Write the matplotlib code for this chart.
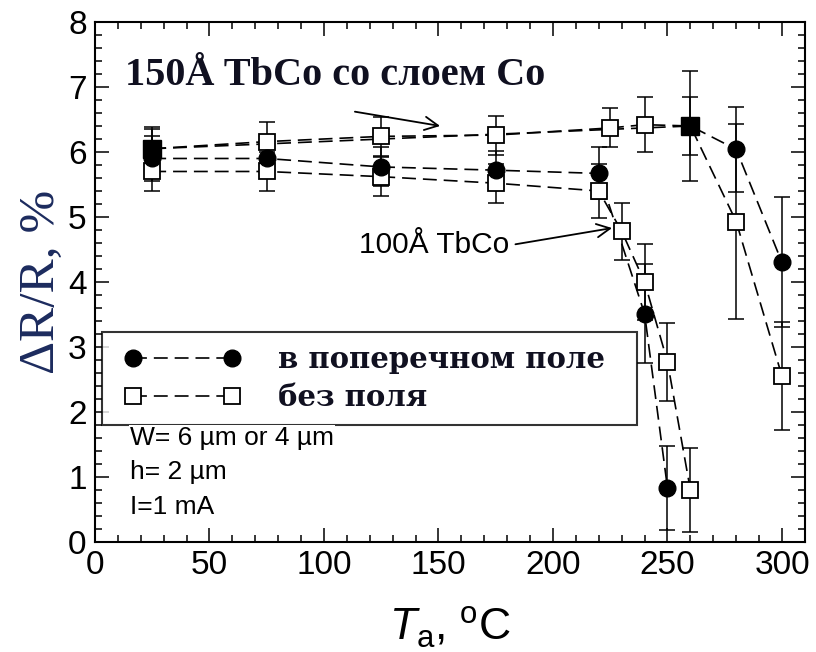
import matplotlib
matplotlib.use("Agg")
import matplotlib.pyplot as plt
from matplotlib.lines import Line2D
from matplotlib.legend_handler import HandlerLine2D
from matplotlib.ticker import MultipleLocator

plt.rcParams['lines.scale_dashes'] = False
plt.rcParams['mathtext.fontset'] = 'custom'
plt.rcParams['mathtext.rm'] = 'Liberation Sans'
plt.rcParams['mathtext.it'] = 'Liberation Sans:italic'

# 150 Å TbCo with Co layer, transverse field (filled markers)
t150_field = [25, 260, 280, 300]
r150_field = [6.05, 6.40, 6.04, 4.30]
e150_field = [0.30, 0.85, 0.65, 1.00]
m150_field = ['s', 's', 'o', 'o']

# 150 Å TbCo with Co layer, no field (open squares)
t150_zero = [25, 75, 125, 175, 225, 240, 260, 280, 300]
r150_zero = [6.05, 6.16, 6.24, 6.26, 6.37, 6.42, 6.40, 4.93, 2.55]
e150_zero = [0.34, 0.30, 0.30, 0.30, 0.30, 0.42, 0.45, 1.50, 0.83]

# 100 Å TbCo, transverse field (filled circles)
t100_field = [25, 75, 125, 175, 220, 240, 250]
r100_field = [5.90, 5.90, 5.77, 5.72, 5.67, 3.51, 0.83]
e100_field = [0.35, 0.30, 0.30, 0.30, 0.40, 0.76, 0.64]

# 100 Å TbCo, no field (open squares)
t100_zero = [25, 75, 125, 175, 220, 230, 240, 250, 260]
r100_zero = [5.70, 5.70, 5.62, 5.52, 5.40, 4.78, 4.00, 2.77, 0.80]
e100_zero = [0.30, 0.30, 0.30, 0.30, 0.42, 0.44, 0.58, 0.60, 0.65]

legend_labels = ['в поперечном поле', 'без поля']
notes = ['W= 6 \u00b5m or 4 \u00b5m', 'h= 2 \u00b5m', 'I=1 mA']

TEXT_DARK = '#101020'

fig = plt.figure(figsize=(8.16, 6.52), dpi=100)
ax = fig.add_axes([0.1164, 0.1687, 0.870, 0.7976])

DASH = (10, 5)
LW = 1.2
err_kw = dict(fmt='none', ecolor='black', elinewidth=1.1, capsize=6, capthick=1.1, zorder=2)

# dashed connecting lines
for t, r in [(t150_field, r150_field), (t150_zero, r150_zero),
             (t100_field, r100_field), (t100_zero, r100_zero)]:
    ax.plot(t, r, color='black', lw=LW, dashes=DASH, zorder=1)

# error bars
ax.errorbar(t150_zero, r150_zero, yerr=e150_zero, **err_kw)
ax.errorbar(t100_zero, r100_zero, yerr=e100_zero, **err_kw)
ax.errorbar(t100_field, r100_field, yerr=e100_field, **err_kw)
ax.errorbar(t150_field, r150_field, yerr=e150_field, **err_kw)

# markers
ax.plot(t150_zero, r150_zero, ls='none', marker='s', ms=11, mfc='white',
        mec='black', mew=1.3, zorder=3)
ax.plot(t100_zero, r100_zero, ls='none', marker='s', ms=11, mfc='white',
        mec='black', mew=1.3, zorder=3)
ax.plot(t100_field, r100_field, ls='none', marker='o', ms=12, mfc='black',
        mec='black', zorder=4)
for t, r, m in zip(t150_field, r150_field, m150_field):
    ax.plot([t], [r], ls='none', marker=m, ms=12 if m == 'o' else 13,
            mfc='black', mec='black', zorder=4)

# axes
ax.set_xlim(0, 310)
ax.set_ylim(0, 8)
ax.xaxis.set_major_locator(MultipleLocator(50))
ax.xaxis.set_minor_locator(MultipleLocator(10))
ax.yaxis.set_major_locator(MultipleLocator(1))
ax.yaxis.set_minor_locator(MultipleLocator(0.2))
ax.tick_params(which='both', direction='in', top=True, right=True, width=1.1)
ax.tick_params(which='major', length=10, labelsize=24, pad=6)
ax.tick_params(which='minor', length=5)
for lab in ax.get_xticklabels() + ax.get_yticklabels():
    lab.set_fontfamily('Liberation Sans')
for sp in ax.spines.values():
    sp.set_linewidth(1.5)

ax.set_xlabel(r'$\mathit{T}_{\mathrm{a}}$, $^{\mathrm{o}}$C', fontsize=32,
              family='Liberation Sans', labelpad=17)
ax.set_ylabel('\u0394R/R, %', fontsize=37, family='Liberation Serif',
              color='#1c2b5e', labelpad=2)

# legend
handles = [
    Line2D([], [], color='black', lw=LW, dashes=DASH, marker='o', ms=12,
           mfc='black', mec='black'),
    Line2D([], [], color='black', lw=LW, dashes=DASH, marker='s', ms=11,
           mfc='white', mec='black', mew=1.3),
]
leg = ax.legend(handles, legend_labels, loc='upper left',
                bbox_to_anchor=(0.01, 0.404, 0.753, 0.0), mode='expand',
                numpoints=2, handlelength=4.6, handletextpad=0.97,
                handler_map={Line2D: HandlerLine2D(marker_pad=0.6)},
                frameon=True, fancybox=False, edgecolor='black',
                borderpad=0.46, labelspacing=0.30, borderaxespad=0,
                prop={'family': 'DejaVu Serif', 'weight': 'bold', 'size': 21})
leg.get_frame().set_linewidth(1.5)
for txt in leg.get_texts():
    txt.set_color(TEXT_DARK)

# annotations
ax.text(13, 7.18, '150\u00c5 TbCo \u0441\u043e \u0441\u043b\u043e\u0435\u043c Co',
        fontsize=29, family='Liberation Serif', weight='bold', color=TEXT_DARK,
        va='center', ha='left')
ax.annotate('', xy=(150.7, 6.40), xytext=(113.5, 6.62),
            arrowprops=dict(arrowstyle='->', color='black', lw=1.3,
                            mutation_scale=24, shrinkA=0, shrinkB=0))
ax.text(115.5, 4.57, '100\u00c5 TbCo', fontsize=21.5, family='Liberation Sans',
        va='center', ha='left')
ax.annotate('', xy=(225.8, 4.83), xytext=(183.6, 4.58),
            arrowprops=dict(arrowstyle='->', color='black', lw=1.3,
                            mutation_scale=24, shrinkA=0, shrinkB=0))

for i, s in enumerate(notes):
    t = ax.text(15.3, 1.6 - i * 0.53, s, fontsize=19, family='Liberation Sans',
                va='center', ha='left', zorder=6)
    if i == 0:
        t.set_bbox(dict(facecolor='white', edgecolor='none', pad=1))

fig.savefig('out.png', dpi=100)
